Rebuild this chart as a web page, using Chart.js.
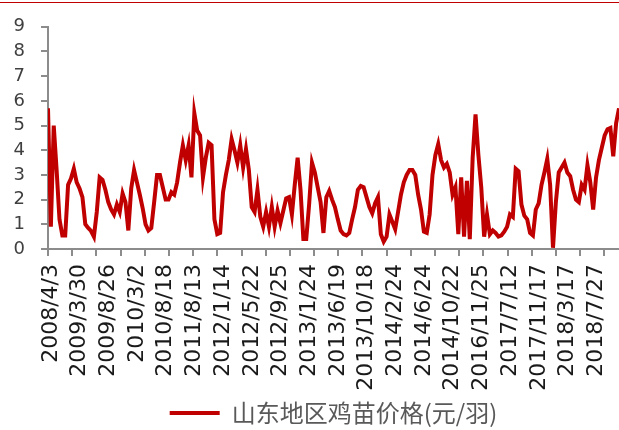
<!DOCTYPE html>
<html lang="zh-CN">
<head>
<meta charset="UTF-8">
<title>山东地区鸡苗价格</title>
<script src="https://cdn.jsdelivr.net/npm/chart.js"></script>
<style>
  html, body { margin: 0; padding: 0; background: #fff; }
  .frame { position: relative; width: 619px; height: 430px; overflow: hidden; }
  .frame .rule { position: absolute; left: 0; right: 0; top: 2px; height: 1px; background: #c00000; }
  canvas { display: block; }
</style>
</head>
<body>
<div class="frame">
  <div class="rule"></div>
  <canvas id="priceChart" width="619" height="430"></canvas>
</div>
<script>
const seriesName = '山东地区鸡苗价格(元/羽)';

// date labels shown under the axis, one every `labelEvery` points
const tickLabels = [
  '2008/4/3', '2009/3/30', '2009/8/26', '2010/3/2', '2010/8/18',
  '2011/8/13', '2012/1/14', '2012/5/22', '2012/9/25', '2013/1/24',
  '2013/6/19', '2013/10/18', '2014/2/24', '2014/6/24', '2014/10/22',
  '2016/11/25', '2017/7/12', '2017/11/17', '2018/3/17', '2018/7/27'
];
const labelEvery = 10;
const markEvery = 8.43; // tick marks are spaced closer than the labels

// 元/羽
const priceValues = [
  5.7, 0.9, 5.0, 3.2, 1.2, 0.55, 0.55, 2.6, 2.85, 3.25,
  2.7, 2.45, 2.1, 1.0, 0.85, 0.73, 0.5, 1.5, 2.9, 2.8,
  2.4, 1.9, 1.6, 1.4, 1.8, 1.5, 2.25, 1.9, 0.75, 2.45,
  3.2, 2.7, 2.2, 1.65, 1.0, 0.75, 0.85, 1.9, 3.0, 3.0,
  2.5, 2.0, 2.0, 2.3, 2.2, 2.7, 3.5, 4.2, 3.6, 4.2,
  2.9, 5.5, 4.8, 4.6, 2.9, 3.7, 4.3, 4.2, 1.2, 0.6,
  0.65, 2.3, 3.0, 3.6, 4.45, 4.0, 3.5, 4.2, 3.3, 4.05,
  3.2, 1.7, 1.5, 2.4, 1.3, 0.9, 1.5, 0.9, 1.7, 0.9,
  1.55, 1.05, 1.55, 2.05, 2.1, 1.4, 2.6, 3.7, 2.4, 0.4,
  0.4, 1.8, 3.5, 3.1, 2.5, 1.9, 0.65, 2.1, 2.35, 2.0,
  1.7, 1.2, 0.75, 0.6, 0.55, 0.65, 1.2, 1.7, 2.4, 2.55,
  2.5, 2.1, 1.7, 1.45, 1.85, 2.1, 0.6, 0.3, 0.5, 1.4,
  1.1, 0.8, 1.5, 2.2, 2.7, 3.0, 3.2, 3.2, 3.0, 2.2,
  1.6, 0.7, 0.65, 1.4, 3.0, 3.8, 4.25, 3.6, 3.3, 3.45,
  3.1, 2.2, 2.5, 0.6, 2.9, 0.5, 2.76, 0.4, 3.7, 5.45,
  3.8, 2.5, 0.5, 1.4, 0.6, 0.75, 0.65, 0.5, 0.55, 0.7,
  0.9, 1.4, 1.3, 3.25, 3.15, 1.8, 1.35, 1.2, 0.65, 0.55,
  1.6, 1.85, 2.6, 3.1, 3.65, 2.6, 0.05, 1.9, 3.1, 3.3,
  3.5, 3.1, 2.95, 2.4, 2.0, 1.9, 2.6, 2.4, 3.4, 2.7,
  1.6, 2.9, 3.6, 4.1, 4.6, 4.85, 4.9, 3.75, 5.1, 5.7
];

const yMin = 0, yMax = 9, yStep = 1;

const lineColor = '#c00000';
const axisColor = '#8c8c8c';

const ctx = document.getElementById('priceChart').getContext('2d');

new Chart(ctx, {
  type: 'line',
  data: {
    datasets: [{
      label: seriesName,
      data: priceValues.map((v, i) => ({ x: i, y: v })),
      borderColor: lineColor,
      backgroundColor: lineColor,
      borderWidth: 4,
      pointRadius: 0,
      tension: 0
    }]
  },
  options: {
    responsive: false,
    animation: false,
    layout: { padding: { top: 22, left: 0, right: 0, bottom: 0 } },
    plugins: {
      tooltip: { enabled: false },
      legend: {
        position: 'bottom',
        fullSize: false,
        maxHeight: 34,
        labels: {
          boxWidth: 50,
          boxHeight: 4,
          padding: 5,
          color: '#595959',
          font: { family: '"Noto Sans CJK SC", sans-serif', size: 24 },
          generateLabels(chart) {
            const items = Chart.defaults.plugins.legend.labels.generateLabels(chart);
            items.forEach(it => { it.lineWidth = 0; });
            return items;
          }
        }
      }
    },
    scales: {
      x: {
        type: 'linear',
        min: 0,
        max: priceValues.length - 1,
        afterBuildTicks(scale) {
          const ticks = tickLabels.map((t, i) => ({ value: i * labelEvery, text: t, mark: false }));
          for (let v = 0; v <= scale.max; v += markEvery) ticks.push({ value: v, text: '', mark: true });
          ticks.sort((a, b) => a.value - b.value);
          scale.ticks = ticks;
        },
        afterFit(scale) {
          scale.height = 147;
          scale.paddingLeft = 0;
          scale.paddingRight = 0;
        },
        grid: {
          drawOnChartArea: false,
          tickLength: 7,
          lineWidth: 2,
          tickColor: (c) => (c.tick && c.tick.mark ? axisColor : 'rgba(0,0,0,0)')
        },
        border: { color: axisColor, width: 2 },
        ticks: {
          autoSkip: false,
          minRotation: 90,
          maxRotation: 90,
          labelOffset: 3,
          padding: 8,
          color: '#1a1a1a',
          font: { family: '"DejaVu Sans", sans-serif', size: 22 },
          callback: (value, index, ticks) => ticks[index].text
        }
      },
      y: {
        min: yMin,
        max: yMax,
        afterFit(scale) { scale.width = 48; },
        grid: { drawOnChartArea: false, tickLength: 7, lineWidth: 2, color: axisColor },
        border: { color: axisColor, width: 2 },
        ticks: {
          stepSize: yStep,
          padding: 16,
          color: '#404040',
          font: { family: '"DejaVu Sans", sans-serif', size: 18 }
        }
      }
    }
  }
});
</script>
</body>
</html>
